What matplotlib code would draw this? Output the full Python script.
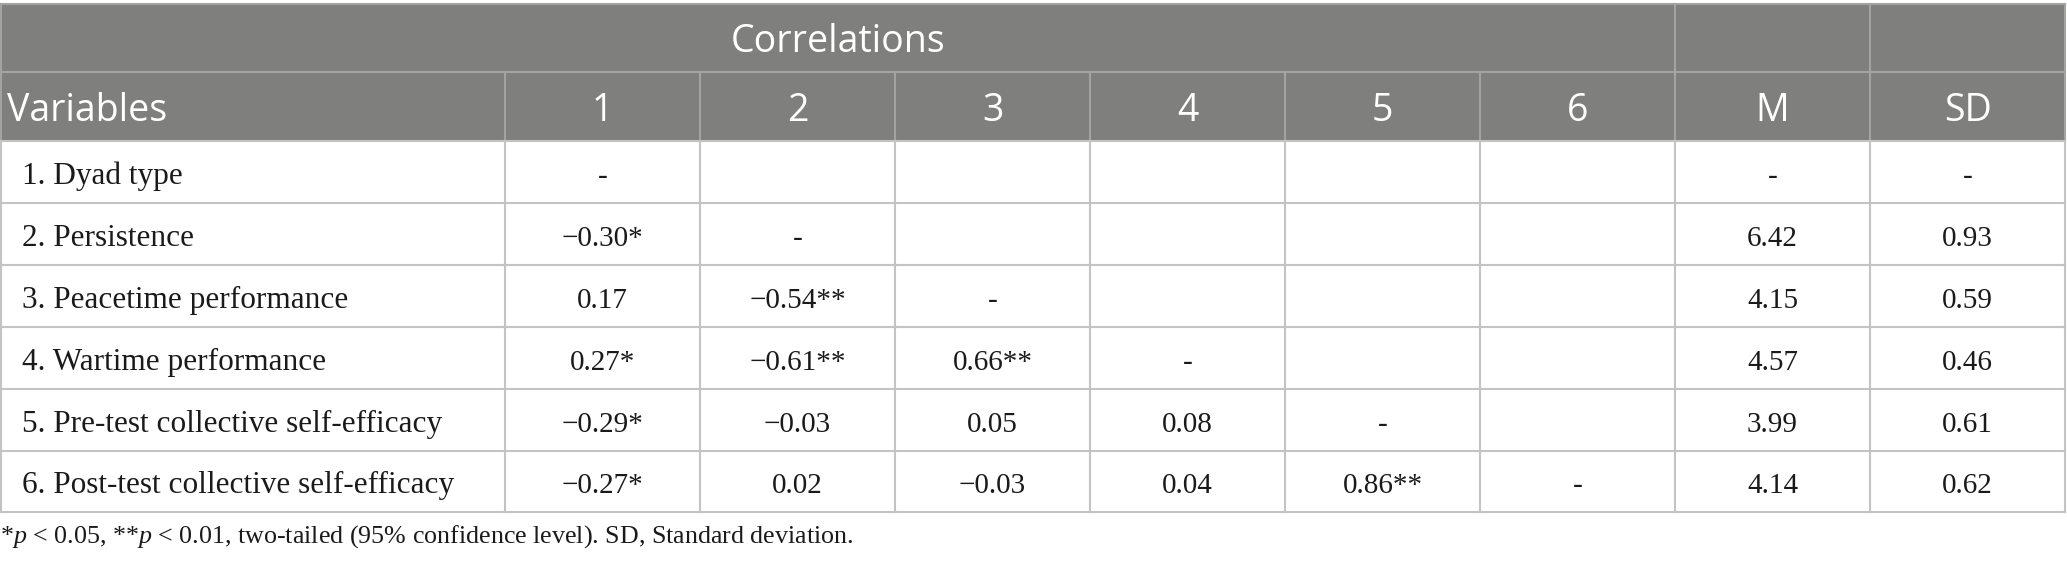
import matplotlib as mpl
mpl.use('Agg')
import matplotlib.pyplot as plt
from matplotlib.patches import Rectangle

# table content
variables = ["1. Dyad type", "2. Persistence", "3. Peacetime performance",
             "4. Wartime performance", "5. Pre-test collective self-efficacy",
             "6. Post-test collective self-efficacy"]
col_labels = ["Variables", "1", "2", "3", "4", "5", "6", "M", "SD"]
corr = [
    ["-"],
    ["\u22120.30*", "-"],
    ["0.17", "\u22120.54**", "-"],
    ["0.27*", "\u22120.61**", "0.66**", "-"],
    ["\u22120.29*", "\u22120.03", "0.05", "0.08", "-"],
    ["\u22120.27*", "0.02", "\u22120.03", "0.04", "0.86**", "-"],
]
means = ["-", "6.42", "4.15", "4.57", "3.99", "4.14"]
sds = ["-", "0.93", "0.59", "0.46", "0.61", "0.62"]
group_title = "Correlations"
footnote = ("*$p$ < 0.05, **$p$ < 0.01, two-tailed (95% confidence level). "
            "SD, Standard deviation.")

# layout in pixels
W, H = 2067, 567
xs = [1, 505, 700, 895, 1090, 1285, 1480, 1675, 1870, 2065]
ys = [4, 72, 141, 203, 265, 327, 389, 451, 512]
head_bg = '#7f807e'
head_line = '#a3a4a2'
grid = '#c3c3c3'
ink = '#1a1a1a'
serif = 'Liberation Serif'
sans = 'Open Sans'

plt.rcParams['mathtext.fontset'] = 'custom'
plt.rcParams['mathtext.rm'] = serif
plt.rcParams['mathtext.it'] = serif + ':italic'

fig = plt.figure(figsize=(W / 100., H / 100.), dpi=100)
ax = fig.add_axes([0, 0, 1, 1])
ax.set_xlim(0, W)
ax.set_ylim(H, 0)
ax.axis('off')

# header background
ax.add_patch(Rectangle((xs[0], ys[0]), xs[-1] - xs[0], ys[2] - ys[0],
                       facecolor=head_bg, edgecolor='none'))

lw = 1.5
# header lines
ax.plot([xs[0], xs[-1]], [ys[0], ys[0]], color=head_line, lw=lw)
ax.plot([xs[0], xs[-1]], [ys[1], ys[1]], color=head_line, lw=lw)
for x in [xs[7], xs[8]]:
    ax.plot([x, x], [ys[0], ys[1]], color=head_line, lw=lw)
for x in xs[1:-1]:
    ax.plot([x, x], [ys[1], ys[2]], color=head_line, lw=lw)
for x in [xs[0], xs[-1]]:
    ax.plot([x, x], [ys[0], ys[2]], color=head_line, lw=lw)

# body lines
for y in ys[2:]:
    ax.plot([xs[0], xs[-1]], [y, y], color=grid, lw=lw)
for x in xs:
    ax.plot([x, x], [ys[2], ys[-1]], color=grid, lw=lw)

# header text
hfs = 27
ax.text((xs[0] + xs[7]) / 2., ys[0] + 0.71 * (ys[1] - ys[0]), group_title,
        color='white', fontsize=hfs, family=sans, ha='center', va='baseline')
for j, lab in enumerate(col_labels):
    yb = ys[1] + 0.71 * (ys[2] - ys[1])
    if j == 0:
        ax.text(xs[0] + 6, yb, lab, color='white', fontsize=hfs, family=sans,
                ha='left', va='baseline')
    else:
        ax.text((xs[j] + xs[j + 1]) / 2., yb, lab, color='white', fontsize=hfs,
                family=sans, ha='center', va='baseline')

# body text
for i, name in enumerate(variables):
    yb = ys[2 + i] + 0.69 * (ys[3 + i] - ys[2 + i])
    ax.text(xs[0] + 21, yb, name, fontsize=22.5, family=serif, color=ink,
            ha='left', va='baseline')
    cells = corr[i] + [''] * (6 - len(corr[i])) + [means[i], sds[i]]
    for j, val in enumerate(cells):
        if val:
            ax.text((xs[j + 1] + xs[j + 2]) / 2., yb, val, fontsize=21,
                    family=serif, color=ink, ha='center', va='baseline')

ax.text(0, 543, footnote, fontsize=18.7, family=serif, color=ink,
        ha='left', va='baseline')

fig.savefig('out.png', dpi=100)
